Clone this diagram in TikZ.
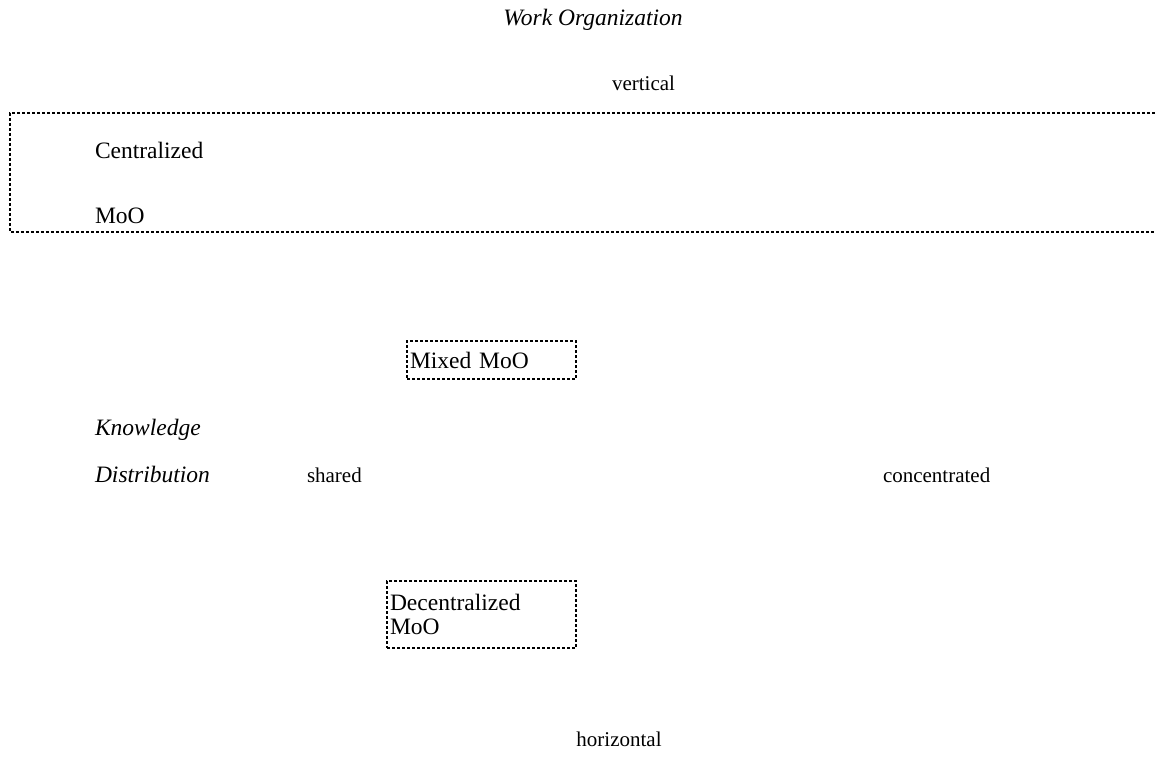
\documentclass[tikz,border=0pt]{standalone}
\usepackage{fontspec}
\setmainfont{Liberation Serif}
\begin{document}
\begin{tikzpicture}[x=1pt,y=-1pt,inner sep=0pt,outer sep=0pt,
dotline/.style={line width=2.5pt,dash pattern=on 3pt off 2pt},
dotbox/.style={draw,rectangle,dotline,anchor=north west,inner xsep=3pt,align=left,
  font=\fontsize{23.5}{24}\selectfont},
lbl/.style={anchor=base west,font=\fontsize{23.5}{24}\selectfont},
axislbl/.style={anchor=base west,font=\fontsize{21}{24}\selectfont}]
\useasboundingbox (0,0) rectangle (1155,773);
% axes
\node[lbl,anchor=base,font=\fontsize{23.5}{24}\selectfont\itshape] (work) at (593,26) {Work Organization};
\node[axislbl,anchor=base] (vert) at (643.5,91) {vertical};
\node[axislbl,anchor=base] (horiz) at (619,746) {horizontal};
\node[lbl,font=\fontsize{23.5}{24}\selectfont\itshape] (know) at (95,435) {Knowledge};
\node[lbl,font=\fontsize{23.5}{24}\selectfont\itshape] (distr) at (95,482) {Distribution};
\node[axislbl] (shared) at (307,482) {shared};
\node[axislbl] (conc) at (883,482) {concentrated};
% centralized region, open on the right
\draw[dotline] (1155,113) -| (10,232) -- (1155,232);
\node[lbl] (central) at (95,158) {Centralized};
\node[lbl] (centralmoo) at (95,223) {MoO};
% boxes
\node[dotbox,text width=163pt,minimum height=38pt] (mixed) at (407,341) {Mixed MoO};
\node[dotbox,text width=183pt,minimum height=67pt] (decentral) at (387,581) {Decentralized\\MoO};
\end{tikzpicture}
\end{document}
